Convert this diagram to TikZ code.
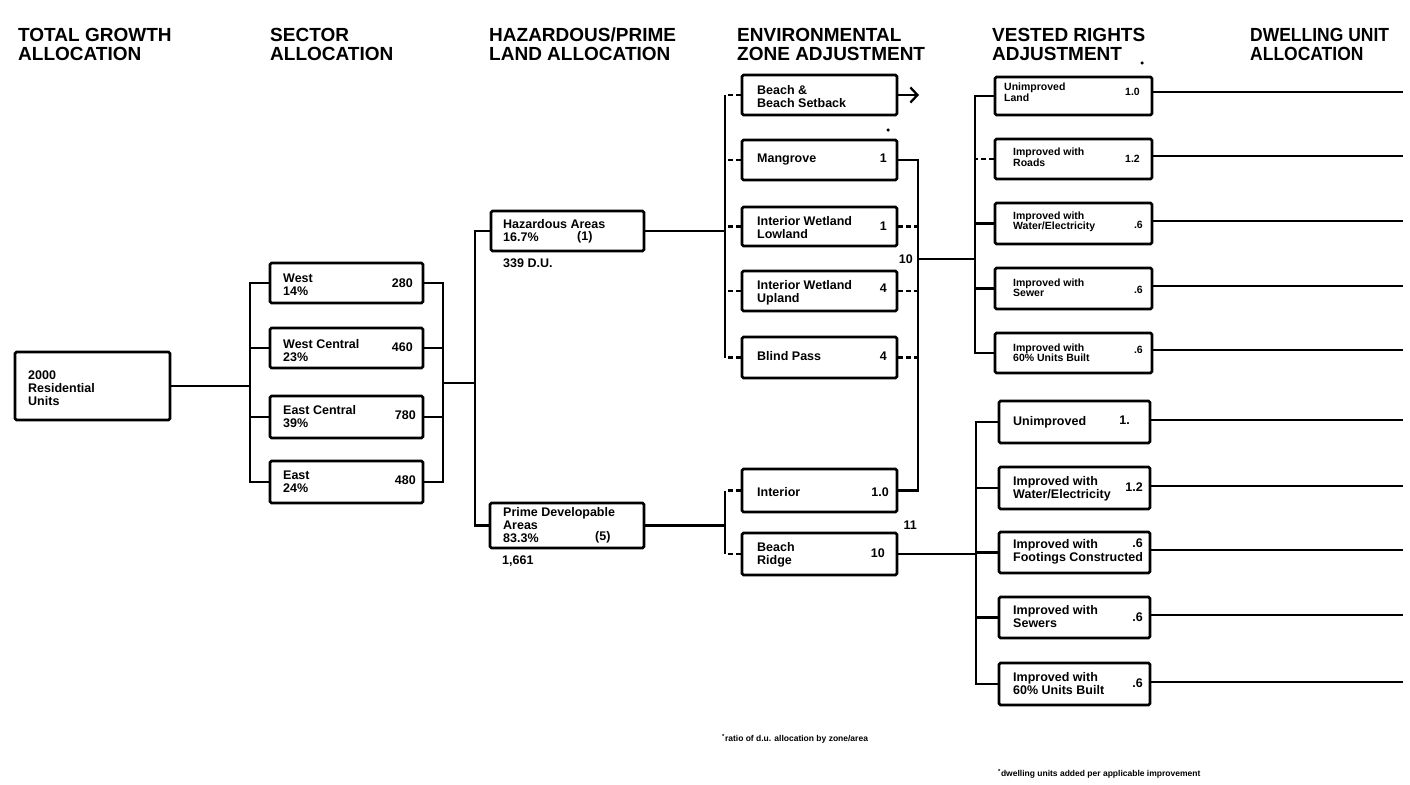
\documentclass[tikz,border=0pt]{standalone}
\usepackage{fontspec}
\setmainfont{Liberation Sans}
\usetikzlibrary{arrows.meta}
\begin{document}
\begin{tikzpicture}[x=1pt,y=-1pt,
  hdr/.style={font=\fontsize{19}{19}\selectfont\bfseries, inner sep=0pt, align=left, anchor=north west},
  bx/.style={draw, line width=2.6pt, rounded corners=1.5pt, inner sep=0pt},
  lbl/.style={font=\fontsize{12.5}{13}\selectfont\bfseries, inner sep=0pt, align=left, anchor=west},
  slbl/.style={font=\fontsize{10.5}{10.5}\selectfont\bfseries, inner sep=0pt, align=left, anchor=west},
  num/.style={font=\fontsize{12.5}{13}\selectfont\bfseries, inner sep=0pt, anchor=east},
  snum/.style={font=\fontsize{10.5}{10.5}\selectfont\bfseries, inner sep=0pt, anchor=east},
  conn/.style={line width=2.3pt},
  dconn/.style={conn, dash pattern=on 5pt off 3pt},
  foot/.style={font=\fontsize{8.5}{8.5}\selectfont\bfseries, inner sep=0pt, anchor=west},
  dotm/.style={circle, fill, inner sep=0pt, minimum size=3.5pt}]
\useasboundingbox[fill=white] (0,0) rectangle (1410,784);

% headers
\node[hdr] (h1) at (18,28) {TOTAL GROWTH\\ALLOCATION};
\node[hdr] (h2) at (270,28) {SECTOR\\ALLOCATION};
\node[hdr] (h3) at (489,28) {HAZARDOUS/PRIME\\LAND ALLOCATION};
\node[hdr] (h4) at (737,28) {ENVIRONMENTAL\\ZONE ADJUSTMENT};
\node[hdr] (h5) at (992,28) {VESTED RIGHTS\\ADJUSTMENT};
\node[hdr] (h6) at (1250,28) {\scalebox{0.92}[1]{\begin{tabular}{@{}l@{}}DWELLING UNIT\\ALLOCATION\end{tabular}}};

% total
\node[bx, minimum width=155, minimum height=68] (total) at (92.5,386) {};
\node[lbl] (tt) at (28,388) {2000\\Residential\\Units};

% sectors
\node[bx, minimum width=153, minimum height=40] (west) at (346.5,283) {};
\node[bx, minimum width=153, minimum height=40] (wc) at (346.5,348) {};
\node[bx, minimum width=153, minimum height=42] (ec) at (346.5,417) {};
\node[bx, minimum width=153, minimum height=42] (east) at (346.5,482) {};
\node[lbl] (tw) at (283,285) {West\\14\%};
\node[num] (nw) at (413,283) {280};
\node[lbl] (twc) at (283,351) {West Central\\23\%};
\node[num] (nwc) at (413,347) {460};
\node[lbl] (tec) at (283,417) {East Central\\39\%};
\node[num] (nec) at (416,415) {780};
\node[lbl] (te) at (283,482) {East\\24\%};
\node[num] (ne) at (416,480) {480};

% hazard / prime
\node[bx, minimum width=153, minimum height=40] (haz) at (567.5,231) {};
\node[bx, minimum width=154, minimum height=45] (prime) at (567,525.5) {};
\node[lbl] (th) at (503,231) {Hazardous Areas\\16.7\%};
\node[lbl] (th1) at (577,237) {(1)};
\node[lbl] (tdu) at (503,263) {339 D.U.};
\node[lbl] (tp) at (503,525) {Prime Developable\\Areas\\83.3\%};
\node[lbl] (tp5) at (595,537) {(5)};
\node[lbl] (t1661) at (502,561) {1,661};

% environmental
\node[bx, minimum width=155, minimum height=40] (beach) at (819.5,95) {};
\node[bx, minimum width=155, minimum height=40] (mang) at (819.5,160) {};
\node[bx, minimum width=155, minimum height=39] (lowl) at (819.5,226.5) {};
\node[bx, minimum width=155, minimum height=40] (upl) at (819.5,291) {};
\node[bx, minimum width=155, minimum height=41] (blind) at (819.5,357.5) {};
\node[bx, minimum width=155, minimum height=43] (inter) at (819.5,490.5) {};
\node[bx, minimum width=155, minimum height=42] (ridge) at (819.5,554) {};
\node[lbl] (tbe) at (757,97) {Beach \&\\Beach Setback};
\node[lbl] (tma) at (757,160) {Mangrove};
\node[num] (nma) at (887,158) {1};
\node[lbl] (tlo) at (757,227.5) {Interior Wetland\\Lowland};
\node[num] (nlo) at (887,226) {1};
\node[lbl] (tup) at (757,293) {Interior Wetland\\Upland};
\node[num] (nup) at (887,288) {4};
\node[lbl] (tbl) at (757,356) {Blind Pass};
\node[num] (nbl) at (887,356) {4};
\node[lbl] (tin) at (757,492) {Interior};
\node[num] (nin) at (889,492) {1.0};
\node[lbl] (tri) at (757,555) {Beach\\Ridge};
\node[num] (nri) at (885,553) {10};
\node[num] (n10) at (913,259) {10};
\node[num] (n11) at (917,525) {11};
\node[dotm] (d1) at (888,130) {};
\node[dotm] (d2) at (1142,63) {};

% vested upper
\node[bx, minimum width=157, minimum height=38] (u1) at (1073.5,96) {};
\node[bx, minimum width=157, minimum height=40] (u2) at (1073.5,159) {};
\node[bx, minimum width=157, minimum height=41] (u3) at (1073.5,223.5) {};
\node[bx, minimum width=157, minimum height=41] (u4) at (1073.5,288.5) {};
\node[bx, minimum width=157, minimum height=40] (u5) at (1073.5,353) {};
\node[slbl] (tu1) at (1004,92) {Unimproved\\Land};
\node[snum] (nu1) at (1140,92) {1.0};
\node[slbl] (tu2) at (1013,157) {Improved with\\Roads};
\node[snum] (nu2) at (1140,159) {1.2};
\node[slbl] (tu3) at (1013,222) {Improved with\\Water/Electricity};
\node[snum] (nu3) at (1143,225) {.6};
\node[slbl] (tu4) at (1013,287.5) {Improved with\\Sewer};
\node[snum] (nu4) at (1143,290) {.6};
\node[slbl] (tu5) at (1013,352.5) {Improved with\\60\% Units Built};
\node[snum] (nu5) at (1143,350) {.6};

% vested lower
\node[bx, minimum width=151, minimum height=42] (l1) at (1074.5,422) {};
\node[bx, minimum width=151, minimum height=42] (l2) at (1074.5,488) {};
\node[bx, minimum width=151, minimum height=41] (l3) at (1074.5,552.5) {};
\node[bx, minimum width=151, minimum height=41] (l4) at (1074.5,617.5) {};
\node[bx, minimum width=151, minimum height=42] (l5) at (1074.5,684) {};
\node[lbl] (tl1) at (1013,422) {Unimproved};
\node[num] (nl1) at (1130,420) {1.};
\node[lbl] (tl2) at (1013,488.5) {Improved with\\Water/Electricity};
\node[num] (nl2) at (1143,487) {1.2};
\node[lbl] (tl3) at (1013,552) {Improved with\\Footings Constructed};
\node[num] (nl3) at (1143,543) {.6};
\node[lbl] (tl4) at (1013,617) {Improved with\\Sewers};
\node[num] (nl4) at (1143,617) {.6};
\node[lbl] (tl5) at (1013,684) {Improved with\\60\% Units Built};
\node[num] (nl5) at (1143,683) {.6};

% footnotes
\node[foot] (fn1) at (722,739) {\textsuperscript{*}ratio of d.u. allocation by zone/area};
\node[foot] (fn2) at (998,774) {\textsuperscript{*}dwelling units added per applicable improvement};

% bus coordinates
\coordinate (sb) at (250,386);
\coordinate (sr) at (443,383);
\coordinate (hb) at (475,383);
\coordinate (eb) at (725,231);
\coordinate (lb) at (725,525.5);
\coordinate (er) at (918,259);
\coordinate (vb) at (975,259);
\coordinate (vlb) at (976,554);
\coordinate (ba) at (919,95);

% total -> sectors
\draw[conn] (total.east) -- (sb);
\draw[conn] (west.west) -| (sb) |- (east.west);
\draw[conn] (wc.west) -- (wc.west -| sb);
\draw[conn] (ec.west) -- (ec.west -| sb);
% sectors -> hazard
\draw[conn] (west.east) -| (sr) |- (east.east);
\draw[conn] (wc.east) -- (wc.east -| sr);
\draw[conn] (ec.east) -- (ec.east -| sr);
\draw[conn] (sr) -- (hb);
\draw[conn] (haz.west) -| (hb) |- (prime.west);
% hazard -> environmental
\draw[conn] (haz.east) -- (eb);
\draw[conn] (beach.west -| eb) -- (blind.west -| eb);
\draw[dconn] (beach.west) -- (beach.west -| eb);
\draw[dconn] (mang.west) -- (mang.west -| eb);
\draw[dconn] (lowl.west) -- (lowl.west -| eb);
\draw[dconn] (upl.west) -- (upl.west -| eb);
\draw[dconn] (blind.west) -- (blind.west -| eb);
\draw[conn, -{Straight Barb[length=7pt,width=15pt,line width=2.3pt]}] (beach.east) -- (ba);
% prime -> environmental
\draw[conn] (prime.east) -- (lb);
\draw[conn] (inter.west -| lb) -- (ridge.west -| lb);
\draw[dconn] (inter.west) -- (inter.west -| lb);
\draw[dconn] (ridge.west) -- (ridge.west -| lb);
% environmental -> vested
\draw[conn] (mang.east) -| (er) |- (inter.east);
\draw[dconn] (lowl.east) -- (lowl.east -| er);
\draw[dconn] (upl.east) -- (upl.east -| er);
\draw[dconn] (blind.east) -- (blind.east -| er);
\draw[conn] (er) -- (vb);
\draw[conn] (u1.west) -| (vb) |- (u5.west);
\draw[dconn] (u2.west) -- (u2.west -| vb);
\draw[conn] (u3.west) -- (u3.west -| vb);
\draw[conn] (u4.west) -- (u4.west -| vb);
\draw[conn] (ridge.east) -- (vlb);
\draw[conn] (l1.west) -| (vlb) |- (l5.west);
\draw[conn] (l2.west) -- (l2.west -| vlb);
\draw[conn] (l3.west) -- (l3.west -| vlb);
\draw[conn] (l4.west) -- (l4.west -| vlb);

% dwelling unit lines
\coordinate (e1) at (1403,92);
\coordinate (e2) at (1403,156);
\coordinate (e3) at (1403,221);
\coordinate (e4) at (1403,286);
\coordinate (e5) at (1403,350);
\coordinate (e6) at (1403,420);
\coordinate (e7) at (1403,486);
\coordinate (e8) at (1403,550);
\coordinate (e9) at (1403,615);
\coordinate (e10) at (1403,682);
\draw[conn] (u1.east |- e1) -- (e1);
\draw[conn] (u2.east |- e2) -- (e2);
\draw[conn] (u3.east |- e3) -- (e3);
\draw[conn] (u4.east |- e4) -- (e4);
\draw[conn] (u5.east |- e5) -- (e5);
\draw[conn] (l1.east |- e6) -- (e6);
\draw[conn] (l2.east |- e7) -- (e7);
\draw[conn] (l3.east |- e8) -- (e8);
\draw[conn] (l4.east |- e9) -- (e9);
\draw[conn] (l5.east |- e10) -- (e10);
\end{tikzpicture}
\end{document}
